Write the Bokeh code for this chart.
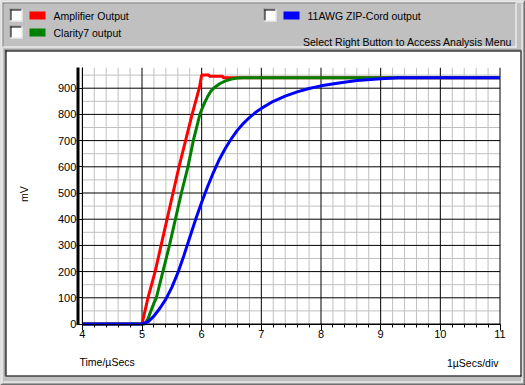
from math import pi
from bokeh.plotting import figure
from bokeh.models import Range1d, SingleIntervalTicker, ColumnDataSource
from bokeh.embed import file_html
from bokeh.resources import INLINE
from bokeh.core.properties import value

# ---------------- data ----------------
amp_x = [4.0, 5.0, 5.1, 5.22, 5.32, 5.42, 5.52, 5.62, 5.73, 5.84, 5.96, 6.0,
         6.12, 6.13, 6.35, 6.36, 6.5, 11.0]
amp_y = [0, 0, 100, 200, 300, 400, 500, 600, 700, 800, 900, 950,
         950, 946, 946, 940, 940, 940]

clarity_x = [4.0, 5.05, 5.1, 5.15, 5.2, 5.24, 5.35, 5.46, 5.56, 5.66, 5.77, 5.86, 5.97,
             6.0, 6.05, 6.1, 6.15, 6.2, 6.3, 6.4, 6.5, 6.6, 6.7, 11.0]
clarity_y = [0, 0, 20, 50, 80, 100, 200, 300, 400, 500, 600, 700, 800,
             818, 845, 868, 887, 900, 917, 928, 935, 939, 940, 940]

zip_x = [4.0, 5.0, 5.1, 5.2, 5.3, 5.4, 5.5, 5.6, 5.7, 5.8, 5.9, 6.0, 6.1, 6.2, 6.3,
         6.4, 6.5, 6.6, 6.7, 6.8, 6.9, 7.0, 7.2, 7.4, 7.6, 7.8, 8.0, 8.3, 8.6, 9.0, 9.3, 11.0]
zip_y = [0, 0, 8, 30, 60, 95, 140, 195, 260, 330, 400, 465, 525, 580, 630,
         672, 708, 740, 766, 788, 807, 823, 850, 870, 886, 899, 909, 920, 929, 936, 940, 940]

series_names = ["Amplifier Output", "Clarity7 output", "11AWG ZIP-Cord output"]
series_colors = ["#ff0000", "#008000", "#0000ff"]

x_major = [4, 5, 6, 7, 8, 9, 10, 11]
y_major = [0, 100, 200, 300, 400, 500, 600, 700, 800, 900]
x_lo, x_hi = 4, 11
y_lo, y_hi = 0, 978
x_minor_per_major = 5
y_minor_per_major = 2

x_label = "Time/\u00b5Secs"
x_scale_note = "1\u00b5Secs/div"
y_label = "mV"
menu_hint = "Select Right Button to Access Analysis Menu"

# ---------------- layout / style constants ----------------
FONT = "Liberation Sans"
GRAY = "#c0c0c0"
DARK = "#808080"
W, H = 525, 385
X5_PX, PX_PER_X = 141.5, 59.667      # canvas x of x=5 and pixels per unit
Y0_PX, PX_PER_Y = 323.5, 0.262       # canvas y of y=0 and pixels per mV

p = figure(width=W, height=H,
           x_range=Range1d(5 - X5_PX / PX_PER_X, 5 + (W - X5_PX) / PX_PER_X),
           y_range=Range1d(-(H - Y0_PX) / PX_PER_Y, Y0_PX / PX_PER_Y),
           output_backend="svg", toolbar_location=None, min_border=0)
p.extra_x_ranges = {"px": Range1d(0, W)}
p.extra_y_ranges = {"px": Range1d(H, 0)}
p.grid.visible = False
p.background_fill_color = GRAY
p.border_fill_color = GRAY
p.outline_line_color = None

PX = dict(x_range_name="px", y_range_name="px")


def box(l, t, r, b, color):
    p.quad(left=[l], right=[r], top=[t], bottom=[b], fill_color=color, line_color=None, **PX)


def hline(row, x0, x1, color, w=1):
    p.segment(x0=[x0], y0=[row + 0.5], x1=[x1], y1=[row + 0.5], line_color=color, line_width=w, **PX)


def vline(col, y0, y1, color, w=1):
    p.segment(x0=[col + 0.5], y0=[y0], x1=[col + 0.5], y1=[y1], line_color=color, line_width=w, **PX)


# window bevel
hline(0, 0, W, "#dfdfdf"); vline(0, 0, H, "#dfdfdf")
hline(1, 1, W - 1, "white"); vline(1, 1, H - 1, "white")
hline(H - 1, 0, W, "black"); vline(W - 1, 0, H, "black")
hline(H - 2, 1, W - 1, DARK); vline(W - 2, 1, H - 1, DARK)
hline(H - 4, 3, W - 3, "white"); vline(W - 4, 3, H - 3, "white")

# legend strip (sunken)
hline(2, 2, 516, DARK); vline(2, 2, 47, DARK)
hline(46, 2, 516, "white"); vline(515, 2, 47, "white")

# plot panel (sunken, white)
box(6, 51, 520, 375, "white")
hline(49, 4, 521, DARK); vline(4, 49, 376, DARK)
hline(50, 5, 520, "black"); vline(5, 50, 375, "black")
hline(375, 5, 521, "black"); vline(520, 50, 376, "black")

# legend entries
legend_origin = [(9, 8), (9, 25), (263, 8)]
for (cx, cy), name, col in zip(legend_origin, series_names, series_colors):
    box(cx, cy, cx + 13, cy + 13, "white")
    hline(cy, cx, cx + 13, DARK); vline(cx, cy, cy + 13, DARK)
    hline(cy + 1, cx + 1, cx + 12, "black"); vline(cx + 1, cy + 1, cy + 12, "black")
    hline(cy + 12, cx, cx + 13, "#dfdfdf"); vline(cx + 12, cy, cy + 13, "#dfdfdf")
    box(cx + 20, cy + 3, cx + 36, cy + 11, col)
    p.text(x=[cx + 44], y=[cy + 7.5], text=[name], text_font=value(FONT), text_font_size="10.5px",
           text_color="black", text_baseline="middle", text_align="left", **PX)
p.text(x=[512], y=[41.5], text=[menu_hint], text_font=value(FONT), text_font_size="10.5px",
       text_color="black", text_baseline="middle", text_align="right", **PX)

# axis captions
p.text(x=[79], y=[361.5], text=[x_label], text_font=value(FONT), text_font_size="10.5px",
       text_color="black", text_baseline="middle", text_align="left", **PX)
p.text(x=[498], y=[362], text=[x_scale_note], text_font=value(FONT), text_font_size="10.5px",
       text_color="black", text_baseline="middle", text_align="right", **PX)
p.text(x=[23], y=[193.5], text=[y_label], angle=pi / 2, text_font=value(FONT),
       text_font_size="10.5px", text_color="black", text_baseline="middle", text_align="center", **PX)

# grid (minor grey, major black) drawn in data space
x_step = (x_major[1] - x_major[0]) / x_minor_per_major
y_step = (y_major[1] - y_major[0]) / y_minor_per_major
x_minor = [x_major[i] + k * x_step for i in range(len(x_major) - 1) for k in range(1, x_minor_per_major)]
y_minor = [y_major[i] + k * y_step for i in range(len(y_major)) for k in range(1, y_minor_per_major)
           if y_major[i] + k * y_step < y_hi]
p.segment(x0=x_minor, y0=[y_lo] * len(x_minor), x1=x_minor, y1=[y_hi] * len(x_minor), line_color=GRAY, line_width=1)
p.segment(x0=[x_lo] * len(y_minor), y0=y_minor, x1=[x_hi] * len(y_minor), y1=y_minor, line_color=GRAY, line_width=1)
p.segment(x0=x_major, y0=[y_lo] * len(x_major), x1=x_major, y1=[y_hi] * len(x_major), line_color="black", line_width=1)
p.segment(x0=[x_lo] * len(y_major), y0=y_major, x1=[x_hi] * len(y_major), y1=y_major, line_color="black", line_width=1)

# thick left rail of the plot area
vline(77, 67, 324, "black", w=3)

# series
for xs, ys, c in zip([amp_x, clarity_x, zip_x], [amp_y, clarity_y, zip_y], series_colors):
    src = ColumnDataSource(data=dict(x=xs, y=ys))
    p.line("x", "y", source=src, line_color=c, line_width=3)

# axes placed inside the canvas at the data origin
p.xaxis.fixed_location = y_lo
p.xaxis.bounds = (x_lo, x_hi)
p.xaxis.ticker = SingleIntervalTicker(interval=1, num_minor_ticks=x_minor_per_major)
p.yaxis.fixed_location = x_lo
p.yaxis.bounds = (y_lo, y_hi)
p.yaxis.ticker = SingleIntervalTicker(interval=100, num_minor_ticks=y_minor_per_major)
for ax in (p.xaxis, p.yaxis):
    ax.axis_line_color = "black"
    ax.axis_line_width = 1
    ax.major_tick_line_color = "black"
    ax.minor_tick_line_color = "black"
    ax.major_label_text_font = FONT
    ax.major_label_text_font_size = "11px"
    ax.major_label_text_color = "black"
    ax.major_tick_in = 0
    ax.minor_tick_in = 0
    ax.major_tick_out = 6
    ax.major_label_standoff = 0
p.xaxis.minor_tick_out = 3
p.yaxis.minor_tick_out = 0

open("out.html", "w").write(file_html(p, INLINE))
